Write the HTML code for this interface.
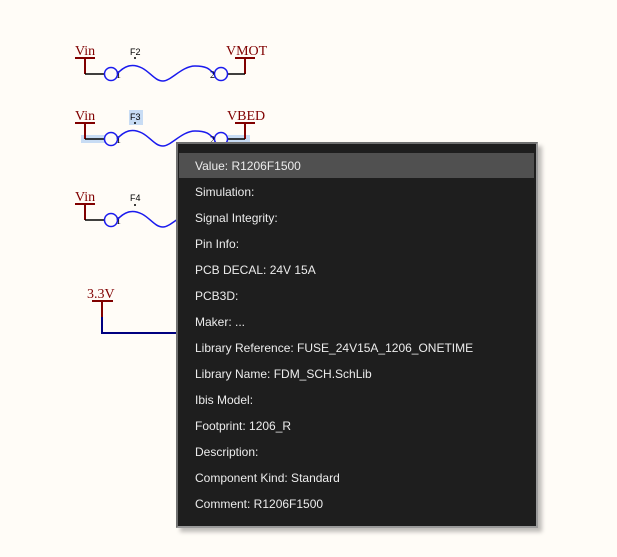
<!DOCTYPE html>
<html><head><meta charset="utf-8"><style>
html,body{margin:0;padding:0;}
body{width:617px;height:557px;background:#fffcf7;position:relative;overflow:hidden;font-family:"Liberation Sans",sans-serif;}
svg{position:absolute;left:0;top:0;}
.pop{position:absolute;left:176px;top:142px;width:358px;height:382px;background:#1e1e1e;border:2px solid #9a9a9a;border-top-color:#707070;border-left-color:#707070;box-shadow:4px 4px 4px rgba(0,0,0,0.25);}
.hl{position:absolute;left:1px;top:9px;width:355px;height:25px;background:#505050;}
.row{position:absolute;left:17px;color:#ececec;font-size:12px;line-height:14px;white-space:nowrap;}
</style></head><body>
<svg width="617" height="557" xmlns="http://www.w3.org/2000/svg">
<defs>
<g id="fuse">
<path d="M75 58H95M85 58V74" stroke="#800000" stroke-width="2" fill="none"/>
<path d="M85 74H104" stroke="#000" stroke-width="1.5"/>
<circle cx="111" cy="74" r="6.5" stroke="#1a1aee" stroke-width="1.5" fill="none"/>
<text x="116" y="78" font-size="10" font-family="Liberation Serif,serif" fill="#000">1</text>
</g>
<path id="wave" d="M117 74C126 64 134 64 142 68S155 81 163 81S182 66 195 66S210 70 214 74" stroke="#1a1aee" stroke-width="1.5" fill="none"/>
<g id="right">
<path d="M235 58H255M245 58V74" stroke="#800000" stroke-width="2" fill="none"/>
<path d="M228 74H245" stroke="#000" stroke-width="1.5"/>
<circle cx="221" cy="74" r="6.5" stroke="#1a1aee" stroke-width="1.5" fill="none"/>
<text x="210" y="78" font-size="10" font-family="Liberation Serif,serif" fill="#000">2</text>
</g>
</defs>
<g font-family="Liberation Serif,serif" font-size="14" fill="#800000">
<text x="75" y="55">Vin</text><text x="226" y="55">VMOT</text>
<text x="75" y="120">Vin</text><text x="227" y="120">VBED</text>
<text x="75" y="201">Vin</text>
<text x="87" y="298">3.3V</text>
</g>
<rect x="81" y="135" width="24" height="8" fill="#c8dcf4"/>
<rect x="228" y="135" width="22" height="8" fill="#c8dcf4"/>
<rect x="129" y="110" width="14" height="15" fill="#c8dcf4"/>
<g font-family="Liberation Sans,sans-serif" font-size="9" fill="#000">
<text x="130" y="55">F2</text><text x="130" y="120">F3</text><text x="130" y="201">F4</text>
</g>
<g fill="#000"><circle cx="135" cy="58" r="1"/><circle cx="135" cy="123" r="1"/><circle cx="135" cy="205" r="1"/></g>
<use href="#fuse"/><use href="#wave"/><use href="#right"/>
<g transform="translate(0,65)"><use href="#fuse"/><use href="#wave"/><use href="#right"/></g>
<g transform="translate(0,146)"><use href="#fuse"/><use href="#wave"/></g>
<path d="M92 301H113" stroke="#800000" stroke-width="2"/>
<path d="M102 301V317" stroke="#800000" stroke-width="2"/>
<path d="M102 317V333H180" stroke="#000080" stroke-width="2" fill="none"/>
</svg>
<div class="pop">
<div class="hl"></div>
<div class="row" style="top:15px">Value: R1206F1500</div>
<div class="row" style="top:41px">Simulation:</div>
<div class="row" style="top:67px">Signal Integrity:</div>
<div class="row" style="top:93px">Pin Info:</div>
<div class="row" style="top:119px">PCB DECAL: 24V 15A</div>
<div class="row" style="top:145px">PCB3D:</div>
<div class="row" style="top:171px">Maker: ...</div>
<div class="row" style="top:197px">Library Reference: FUSE_24V15A_1206_ONETIME</div>
<div class="row" style="top:223px">Library Name: FDM_SCH.SchLib</div>
<div class="row" style="top:249px">Ibis Model:</div>
<div class="row" style="top:275px">Footprint: 1206_R</div>
<div class="row" style="top:301px">Description:</div>
<div class="row" style="top:327px">Component Kind: Standard</div>
<div class="row" style="top:353px">Comment: R1206F1500</div>
</div>
</body></html>
